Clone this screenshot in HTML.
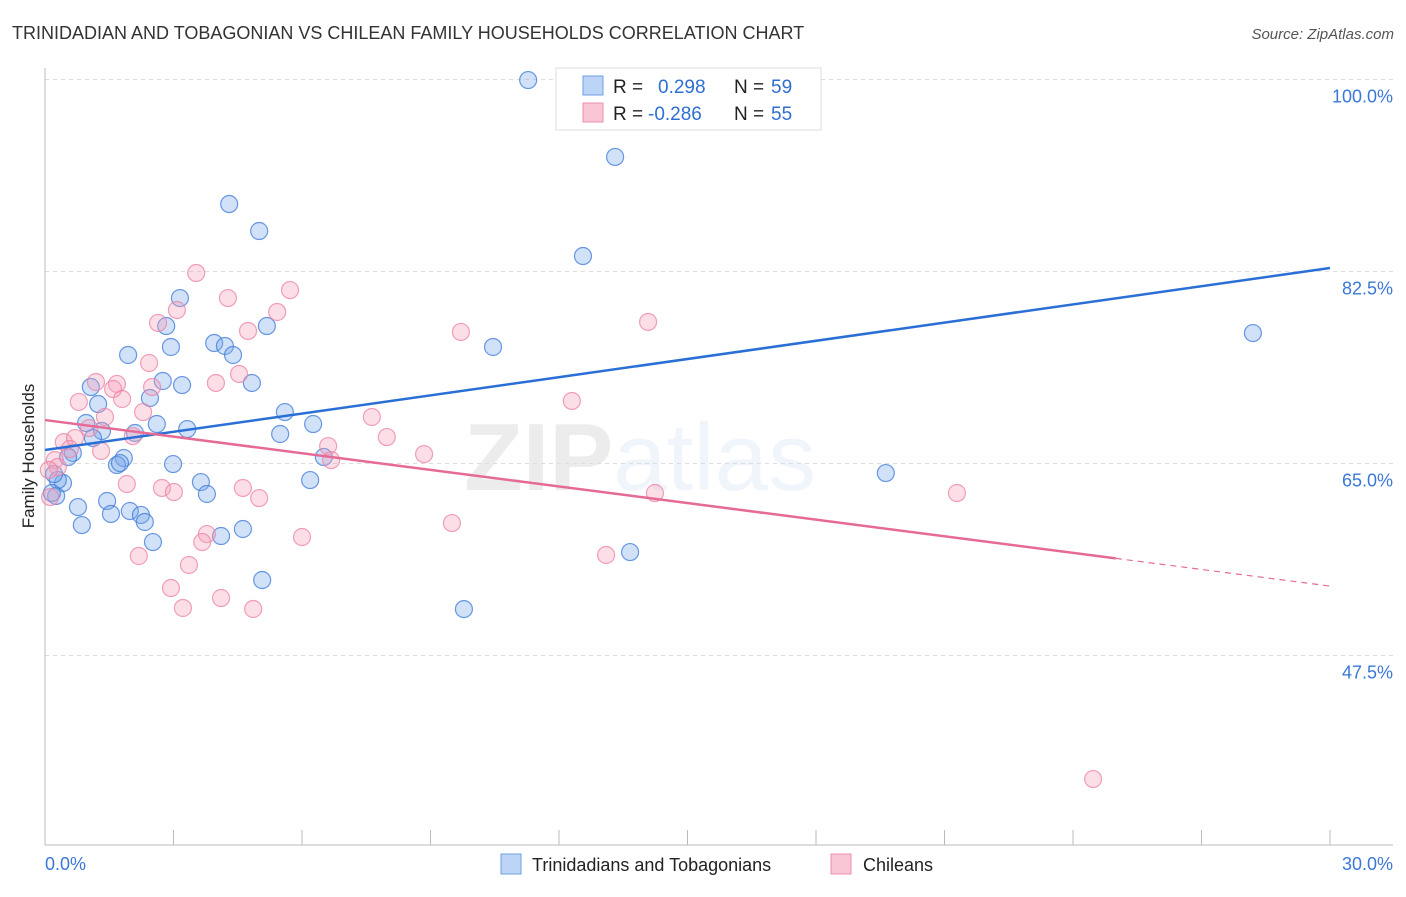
<!DOCTYPE html>
<html><head><meta charset="utf-8"><style>
body{margin:0;background:#fff;font-family:"Liberation Sans",sans-serif;}
svg text{font-family:"Liberation Sans",sans-serif;}
</style></head><body>
<svg id="chart" width="1406" height="892" xmlns="http://www.w3.org/2000/svg">
<text x="12" y="39" font-size="18" fill="#333">TRINIDADIAN AND TOBAGONIAN VS CHILEAN FAMILY HOUSEHOLDS CORRELATION CHART</text>
<text x="1394" y="39" font-size="15" fill="#555" text-anchor="end" font-style="italic">Source: ZipAtlas.com</text>
<text x="640" y="490" font-size="96" fill="#000" opacity="0.07" text-anchor="middle" font-family="Liberation Serif" font-weight="bold">ZIP<tspan fill="#3b7dd8" opacity="1" font-family="Liberation Sans" font-weight="normal">atlas</tspan></text>
<g id="grid"></g>
<g id="axes"></g>
<g id="marks"></g>
<g id="trends"></g>
<text transform="translate(34,456) rotate(-90)" font-size="17" fill="#222" text-anchor="middle">Family Households</text>
<g>
<rect x="556" y="68" width="265" height="62" fill="#fff" stroke="#ddd"/>
<rect x="583" y="76" width="20" height="19" fill="#bcd4f5" stroke="#6fa0e6"/>
<rect x="583" y="103" width="20" height="19" fill="#f9c6d5" stroke="#ee90ad"/>
<text x="613" y="93" font-size="19" fill="#222">R =</text>
<text x="658" y="93" font-size="19" fill="#2f6fd0">0.298</text>
<text x="734" y="93" font-size="19" fill="#222">N =</text>
<text x="771" y="93" font-size="19" fill="#2f6fd0">59</text>
<text x="613" y="120" font-size="19" fill="#222">R =</text>
<text x="648" y="120" font-size="19" fill="#2f6fd0">-0.286</text>
<text x="734" y="120" font-size="19" fill="#222">N =</text>
<text x="771" y="120" font-size="19" fill="#2f6fd0">55</text>
</g>
<g>
<rect x="501" y="854" width="20" height="20" fill="#bcd4f5" stroke="#6fa0e6"/>
<text x="532" y="871" font-size="18" fill="#222">Trinidadians and Tobagonians</text>
<rect x="831" y="854" width="20" height="20" fill="#f9c6d5" stroke="#ee90ad"/>
<text x="863" y="871" font-size="18" fill="#222">Chileans</text>
</g>
</svg>
<script>
const yTicks=[100,82.5,65,47.5];
const yTickLabels=["100.0%","82.5%","65.0%","47.5%"];
const xEndLabels=["0.0%","30.0%"];
const blueX=[11.28,13.31,4.30,5.00,12.56,3.15,2.83,5.18,2.94,3.95,4.20,4.39,1.94,10.46,28.20,2.75,3.20,4.83,1.07,2.45,1.24,5.60,2.61,6.26,0.96,3.32,1.33,2.10,1.12,5.49,0.65,0.54,6.51,1.84,1.68,2.99,19.63,6.19,3.64,0.42,0.30,3.78,0.26,0.16,1.45,0.77,1.54,1.98,2.24,2.33,0.86,4.62,4.11,2.52,13.66,5.07,9.78,0.21,1.75];
const blueY=[99.95,92.94,88.65,86.19,83.91,80.08,77.53,77.53,75.62,75.98,75.71,74.89,74.89,75.62,76.89,72.52,72.15,72.34,71.97,70.97,70.42,69.69,68.60,68.60,68.69,68.14,67.96,67.78,67.32,67.69,65.96,65.59,65.59,65.50,64.86,64.95,64.13,63.49,63.31,63.22,63.49,62.22,62.04,62.31,61.58,61.03,60.40,60.67,60.31,59.67,59.39,59.03,58.39,57.84,56.93,54.38,51.73,64.04,65.04];
const pinkX=[3.53,5.72,4.27,3.08,5.42,2.64,4.74,9.71,14.08,2.43,4.53,1.19,1.68,2.50,3.99,1.59,0.79,1.80,12.30,1.40,2.29,7.63,1.03,7.98,2.05,0.44,0.70,6.61,0.58,1.31,8.85,0.23,6.68,0.30,1.91,2.73,3.01,4.62,14.24,21.29,5.00,9.50,3.78,6.00,3.67,2.19,13.10,3.36,2.94,4.11,3.22,4.86,24.47,0.12,0.09];
const pinkY=[82.36,80.81,80.08,78.99,78.81,77.81,77.08,76.99,77.90,74.16,73.16,72.43,72.25,71.97,72.34,71.79,70.61,70.88,70.70,69.24,69.69,69.24,68.23,67.41,67.50,66.95,67.32,66.59,66.32,66.14,65.86,65.31,65.31,64.68,63.13,62.77,62.40,62.77,62.31,62.31,61.85,59.57,58.57,58.30,57.84,56.57,56.66,55.75,53.65,52.74,51.83,51.74,36.24,61.94,64.41];
const blueTrend=[66.23,82.82];   // value at x=0 and x=30
const pinkTrend=[68.96,53.83];   // value at x=0 and x=30
const pinkSolidEnd=25;

const NS="http://www.w3.org/2000/svg";
const X0=45,X1=1330,xMax=30;
const xs=v=>X0+(X1-X0)*v/xMax;
const ys=v=>79.5+(100-v)*192/17.5;
function mk(tag,attrs,parent){const e=document.createElementNS(NS,tag);for(const k in attrs)e.setAttribute(k,attrs[k]);document.getElementById(parent).appendChild(e);return e;}

yTicks.forEach((t,i)=>{
  const g=mk('line',{x1:45,x2:1393,y1:ys(t),y2:ys(t),stroke:'#ddd','stroke-dasharray':'4,4'},'grid');
  
  
  const l=mk('text',{x:1393,y:ys(t)+23,'font-size':18,fill:'#3a78d6','text-anchor':'end'},'grid');
  l.textContent=yTickLabels[i];
  
  
});
let a=mk('line',{x1:45,x2:45,y1:68,y2:845,stroke:'#bbb'},'axes');


a=mk('line',{x1:45,x2:1393,y1:845,y2:845,stroke:'#bbb'},'axes');


for(let i=1;i<=10;i++){
  const t=mk('line',{x1:xs(i*3),x2:xs(i*3),y1:830,y2:845,stroke:'#bbb'},'axes');
  
  
}
let xl=mk('text',{x:45,y:870,'font-size':18,fill:'#3a78d6'},'axes');xl.textContent=xEndLabels[0];


xl=mk('text',{x:1393,y:870,'font-size':18,fill:'#3a78d6','text-anchor':'end'},'axes');xl.textContent=xEndLabels[1];



blueX.forEach((v,i)=>{
  const c=mk('circle',{cx:xs(v),cy:ys(blueY[i]),r:8.5,fill:'rgba(120,170,235,0.35)',stroke:'rgba(60,120,215,0.75)','stroke-width':1.2},'marks');
  
  
});
pinkX.forEach((v,i)=>{
  const c=mk('circle',{cx:xs(v),cy:ys(pinkY[i]),r:8.5,fill:'rgba(245,160,185,0.35)',stroke:'rgba(235,130,165,0.75)','stroke-width':1.2},'marks');
  
  
});
const lerp=(tr,x)=>tr[0]+(tr[1]-tr[0])*x/xMax;
let tl=mk('line',{x1:xs(0),y1:ys(blueTrend[0]),x2:xs(30),y2:ys(blueTrend[1]),stroke:'#2a6fd6','stroke-width':2.5},'trends');


tl=mk('line',{x1:xs(0),y1:ys(pinkTrend[0]),x2:xs(pinkSolidEnd),y2:ys(lerp(pinkTrend,pinkSolidEnd)),stroke:'#e66a96','stroke-width':2.5},'trends');


tl=mk('line',{x1:xs(pinkSolidEnd),y1:ys(lerp(pinkTrend,pinkSolidEnd)),x2:xs(30),y2:ys(pinkTrend[1]),stroke:'#e66a96','stroke-width':1.2,'stroke-dasharray':'6,5'},'trends');


</script>
</body></html>
